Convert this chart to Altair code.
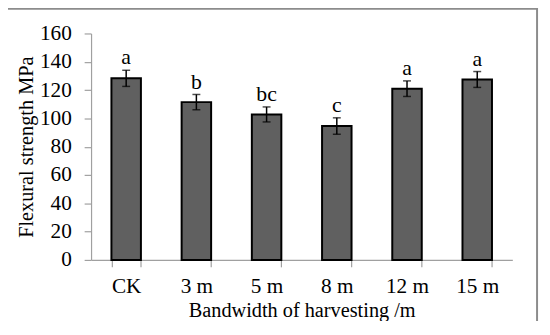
import altair as alt
import pandas as pd

categories = ["CK", "3 m", "5 m", "8 m", "12 m", "15 m"]
means = [128.3, 111.5, 102.8, 94.6, 121.0, 127.5]
errors = [5.7, 5.4, 5.3, 5.8, 5.5, 5.6]
letters = ["a", "b", "bc", "c", "a", "a"]
y_ticks = [0, 20, 40, 60, 80, 100, 120, 140, 160]

df = pd.DataFrame({"cat": categories, "mean": means, "err": errors, "letter": letters})
df["lo"] = df["mean"] - df["err"]
df["hi"] = df["mean"] + df["err"]

W, H = 426, 229
FONT = "Liberation Serif"

xscale = alt.Scale(paddingInner=0.58, paddingOuter=0.29)
xaxis = alt.Axis(title="Bandwidth of harvesting /m", labelAngle=0,
                 tickBand="extent", labelPadding=9, tickSize=7, titlePadding=4)
yscale = alt.Scale(domain=[0, 160])
yaxis = alt.Axis(title="Flexural strength MPa", values=y_ticks, labelOverlap=False,
                 grid=False, tickSize=7, labelPadding=13, titlePadding=3)


def X():
    return alt.X("cat:N", sort=categories, scale=xscale, axis=xaxis)


def Y(field):
    return alt.Y(field, scale=yscale, axis=yaxis)


base = alt.Chart(df)

bars = base.mark_bar(color="#606060", stroke="black", strokeWidth=2).encode(
    x=X(), y=Y("mean:Q"))
rules = base.mark_rule(color="black", strokeWidth=1.5).encode(
    x=X(), y=Y("lo:Q"), y2="hi:Q")
caps_hi = base.mark_tick(color="black", thickness=1.5, size=8).encode(
    x=X(), y=Y("hi:Q"))
caps_lo = base.mark_tick(color="black", thickness=1.5, size=8).encode(
    x=X(), y=Y("lo:Q"))
text = base.mark_text(font=FONT, fontSize=22, baseline="alphabetic", dy=-6, color="black").encode(
    x=X(), y=Y("hi:Q"), text="letter:N")

frame = alt.Chart(pd.DataFrame({"k": [0]})).mark_rect(
    fill=None, stroke="#8c8c8c", strokeWidth=2, clip=False).encode(
    x=alt.value(-85), x2=alt.value(451), y=alt.value(-25), y2=alt.value(295))

chart = alt.layer(bars, rules, caps_hi, caps_lo, text, frame).properties(
    width=W, height=H,
    autosize=alt.AutoSizeParams(type="none"),
    padding={"left": 84, "top": 24, "right": 30, "bottom": 60},
).configure_view(stroke=None).configure_axis(
    domainColor="#a0a0a0", tickColor="#a0a0a0", labelColor="black", titleColor="black",
    labelFont=FONT, titleFont=FONT, labelFontSize=21.5, titleFontSize=20.5,
    titleFontWeight="normal", domainWidth=1.2, tickWidth=1.2,
)

chart.save("out.html", embed_options={"renderer": "svg", "actions": False})
